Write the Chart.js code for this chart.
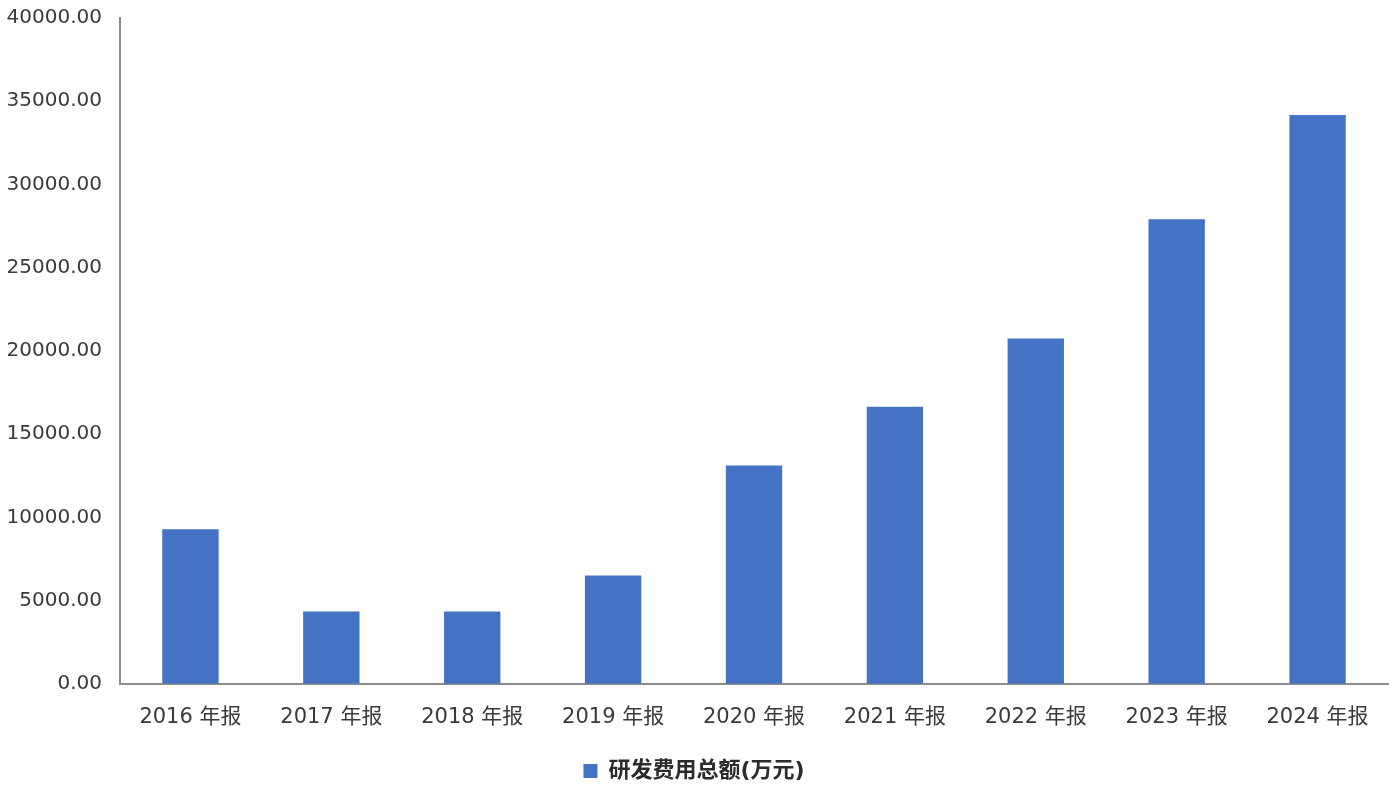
<!DOCTYPE html>
<html>
<head>
<meta charset="utf-8">
<script src="https://cdn.jsdelivr.net/npm/chart.js@4"></script>
<style>
  html, body { margin: 0; padding: 0; background: #ffffff; }
  #wrap { width: 1399px; height: 799px; }
</style>
</head>
<body>
<div id="wrap"><canvas id="chart-rd"></canvas></div>
<script>
const years = ["2016 年报", "2017 年报", "2018 年报", "2019 年报", "2020 年报", "2021 年报", "2022 年报", "2023 年报", "2024 年报"];
const rdTotal = [9290, 4340, 4340, 6500, 13110, 16650, 20740, 27910, 34170];
const seriesName = "研发费用总额(万元)";
const yMax = 40000;
const yStep = 5000;

const fontFamily = "'DejaVu Sans', 'Noto Sans CJK SC', sans-serif";
const rdCanvas = document.querySelector("#chart-rd");

const chartRd = new Chart(rdCanvas, {
  type: "bar",
  data: {
    labels: years,
    datasets: [
      {
        label: seriesName,
        data: rdTotal,
        backgroundColor: "#4472C4",
        categoryPercentage: 1,
        barPercentage: 0.4,
      },
    ],
  },
  options: {
    responsive: true,
    maintainAspectRatio: false,
    animation: false,
    layout: {
      padding: { top: 18, right: 11, bottom: 7, left: 0 },
    },
    plugins: {
      tooltip: { enabled: false },
      legend: {
        position: "bottom",
        labels: {
          boxWidth: 14,
          boxHeight: 14,
          color: "#2b2b2b",
          padding: 9,
          font: { family: fontFamily, size: 22, weight: "bold" },
        },
      },
    },
    scales: {
      x: {
        grid: { display: false, drawTicks: false },
        border: { color: "#8c8c8c", width: 2 },
        ticks: {
          color: "#3a3a3a",
          padding: 21,
          maxRotation: 0,
          font: { family: fontFamily, size: 21 },
        },
      },
      y: {
        min: 0,
        max: yMax,
        afterFit: (scale) => {
          scale.width = 120;
          scale.paddingTop = 0;
          scale.paddingBottom = 0;
        },
        grid: { display: false, drawTicks: false },
        border: { color: "#8c8c8c", width: 2 },
        ticks: {
          stepSize: yStep,
          color: "#3a3a3a",
          padding: 18,
          font: { family: fontFamily, size: 20 },
          callback: (v) => Number(v).toFixed(2),
        },
      },
    },
  },
});
</script>
</body>
</html>
